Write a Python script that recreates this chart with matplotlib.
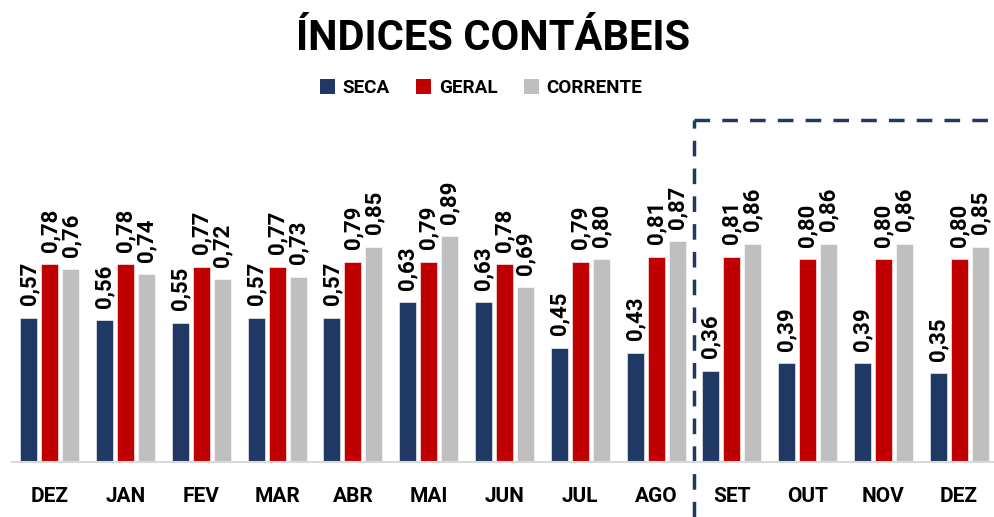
import matplotlib
matplotlib.use("Agg")
import matplotlib.pyplot as plt
from matplotlib.patches import Patch
import numpy as np

categories = ["DEZ", "JAN", "FEV", "MAR", "ABR", "MAI", "JUN", "JUL", "AGO", "SET", "OUT", "NOV", "DEZ"]
seca = [0.57, 0.56, 0.55, 0.57, 0.57, 0.63, 0.63, 0.45, 0.43, 0.36, 0.39, 0.39, 0.35]
geral = [0.78, 0.78, 0.77, 0.77, 0.79, 0.79, 0.78, 0.79, 0.81, 0.81, 0.80, 0.80, 0.80]
corrente = [0.76, 0.74, 0.72, 0.73, 0.85, 0.89, 0.69, 0.80, 0.87, 0.86, 0.86, 0.86, 0.85]
series = [("SECA", seca, "#1F3864"), ("GERAL", geral, "#C00000"), ("CORRENTE", corrente, "#BFBFBF")]

FONT = "Roboto"
plt.rcParams["font.family"] = [FONT, "DejaVu Sans"]

W, H = 994, 517
fig = plt.figure(figsize=(W / 100, H / 100), dpi=100)
ax = fig.add_axes([12 / W, 55 / H, (997 - 12) / W, (462 - 120) / H])

x = np.arange(len(categories))
pitch = 0.277
width = 0.224
for i, (name, vals, col) in enumerate(series):
    pos = x + (i - 1) * pitch
    ax.bar(pos, vals, width, color=col, edgecolor="white", linewidth=0.4, label=name)
    for p, v in zip(pos, vals):
        ax.annotate(f"{v:.2f}".replace(".", ","), (p, v), xytext=(0, 9), textcoords="offset points",
                    rotation=90, ha="center", va="bottom", fontsize=16, fontweight="bold", color="black")

ax.set_xlim(-0.5, 12.5)
ax.set_ylim(0, (462 - 120) / 253.5)
ax.set_xticks(x)
ax.set_xticklabels(categories, fontsize=15, fontweight="bold")
ax.tick_params(axis="x", length=0, pad=29)
for lbl in ax.get_xticklabels():
    lbl.set_verticalalignment("baseline")
ax.set_yticks([])
for s in ["top", "right", "left"]:
    ax.spines[s].set_visible(False)
ax.spines["bottom"].set_color("#D9D9D9")
ax.spines["bottom"].set_linewidth(1.5)

# dashed highlight box
ytop = ax.get_ylim()[1]
ybot = -55 / 253.5
dash = dict(color="#1F3864", linewidth=2.5, linestyle=(0, (4.5, 3.5)), clip_on=False)
ax.plot([8.5, 8.5], [ybot, ytop], **dash)
ax.plot([8.5, 12.6], [ytop, ytop], **dash)

fig.text(0.496, 1 - 38 / H, "ÍNDICES CONTÁBEIS", ha="center", va="center", fontsize=30, fontweight="bold")

handles = [Patch(facecolor=c, edgecolor="none") for _, _, c in series]
fig.legend(handles, [n for n, _, _ in series], loc="center", bbox_to_anchor=(0.484, 1 - 88 / H), ncol=3,
           frameon=False, prop={"weight": "bold", "size": 13.6}, handlelength=0.8, handleheight=0.8,
           handletextpad=0.4, columnspacing=1.4)

fig.savefig("out.png", dpi=100)
